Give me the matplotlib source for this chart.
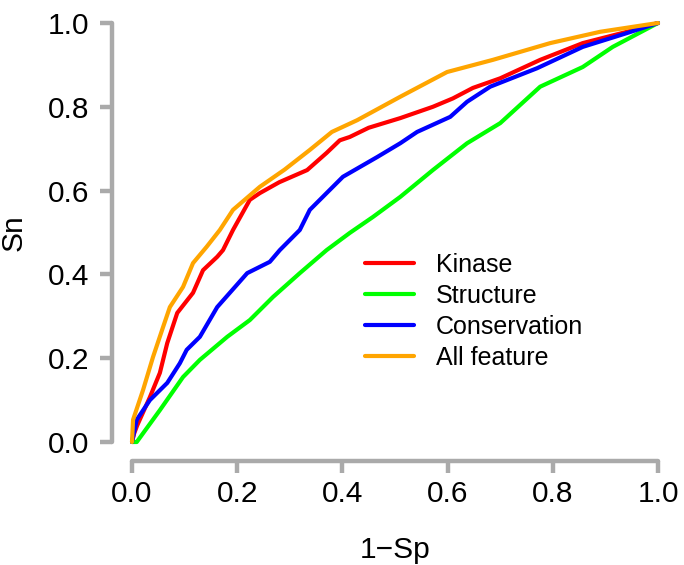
import matplotlib
matplotlib.use("Agg")
import matplotlib.pyplot as plt

plt.rcParams['font.family'] = ['Liberation Sans', 'DejaVu Sans']

labels = ["Kinase", "Structure", "Conservation", "All feature"]
colors = ["#FF0000", "#00FF00", "#0000FF", "#FFA500"]

kinase_x = [0, 0.004, 0.01, 0.034, 0.053, 0.067, 0.086, 0.116, 0.135, 0.162, 0.173, 0.192, 0.224, 0.243, 0.28, 0.333, 0.37, 0.395, 0.414, 0.45, 0.51, 0.572, 0.61, 0.648, 0.7, 0.776, 0.857, 0.941, 1.0]
kinase_y = [0, 0.02, 0.04, 0.107, 0.165, 0.236, 0.308, 0.356, 0.41, 0.442, 0.458, 0.506, 0.578, 0.594, 0.62, 0.649, 0.69, 0.72, 0.728, 0.75, 0.773, 0.8, 0.82, 0.845, 0.868, 0.912, 0.952, 0.979, 1.0]

structure_x = [0, 0.009, 0.053, 0.097, 0.129, 0.181, 0.224, 0.268, 0.319, 0.37, 0.414, 0.458, 0.51, 0.572, 0.637, 0.7, 0.776, 0.857, 0.914, 1.0]
structure_y = [0, 0.0, 0.076, 0.155, 0.196, 0.251, 0.291, 0.346, 0.403, 0.458, 0.499, 0.537, 0.585, 0.649, 0.713, 0.761, 0.848, 0.895, 0.943, 1.0]

conservation_x = [0, 0.009, 0.034, 0.067, 0.091, 0.104, 0.129, 0.162, 0.219, 0.262, 0.281, 0.319, 0.338, 0.401, 0.466, 0.51, 0.542, 0.605, 0.637, 0.681, 0.77, 0.857, 0.941, 1.0]
conservation_y = [0, 0.053, 0.1, 0.141, 0.188, 0.22, 0.251, 0.322, 0.403, 0.43, 0.458, 0.506, 0.554, 0.633, 0.68, 0.713, 0.74, 0.776, 0.812, 0.848, 0.892, 0.943, 0.976, 1.0]

allfeat_x = [0, 0.002, 0.021, 0.04, 0.059, 0.072, 0.097, 0.116, 0.142, 0.167, 0.192, 0.243, 0.29, 0.338, 0.38, 0.428, 0.51, 0.599, 0.686, 0.795, 0.89, 1.0]
allfeat_y = [0, 0.053, 0.124, 0.203, 0.274, 0.322, 0.37, 0.427, 0.466, 0.506, 0.554, 0.609, 0.65, 0.697, 0.74, 0.768, 0.824, 0.883, 0.912, 0.952, 0.979, 1.0]

ticks = [0.0, 0.2, 0.4, 0.6, 0.8, 1.0]
tick_labels = ["0.0", "0.2", "0.4", "0.6", "0.8", "1.0"]

W, H = 684, 565
fig = plt.figure(figsize=(W / 100, H / 100), dpi=100)
ax = fig.add_axes([132 / W, (H - 442) / H, 526 / W, 419 / H])

series = [(kinase_x, kinase_y), (structure_x, structure_y),
          (conservation_x, conservation_y), (allfeat_x, allfeat_y)]
for (xs, ys), c, lab in zip(series, colors, labels):
    ax.plot(xs, ys, color=c, lw=3.0, label=lab, clip_on=False,
            solid_joinstyle='round', solid_capstyle='round')

ax.set_xlim(0, 1)
ax.set_ylim(0, 1)
gray = "#AAAAAA"
for s in ["top", "right"]:
    ax.spines[s].set_visible(False)
ax.spines["left"].set_position(("outward", 14.4))
ax.spines["bottom"].set_position(("outward", 13.7))
for s in ["left", "bottom"]:
    ax.spines[s].set_bounds(0, 1)
    ax.spines[s].set_color(gray)
    ax.spines[s].set_linewidth(3.2)
    ax.spines[s].set_capstyle('round')

ax.set_xticks(ticks)
ax.set_xticklabels(tick_labels)
ax.set_yticks(ticks)
ax.set_yticklabels(tick_labels)
ax.tick_params(axis='both', length=8.6, width=3.2, color=gray, labelsize=21.5)
ax.tick_params(axis='x', pad=5)
ax.tick_params(axis='y', pad=8)

ax.set_xlabel("1\u2212Sp", fontsize=21.5, labelpad=20)
ax.set_ylabel("Sn", fontsize=21.5, labelpad=14)

leg = ax.legend(loc='upper left', bbox_to_anchor=((365 - 132) / 526, (442 - 253) / 419),
                frameon=False, fontsize=18, handlelength=1.95, handletextpad=0.88,
                labelspacing=0.28, borderpad=0, borderaxespad=0)

fig.savefig("out.png", dpi=100)
